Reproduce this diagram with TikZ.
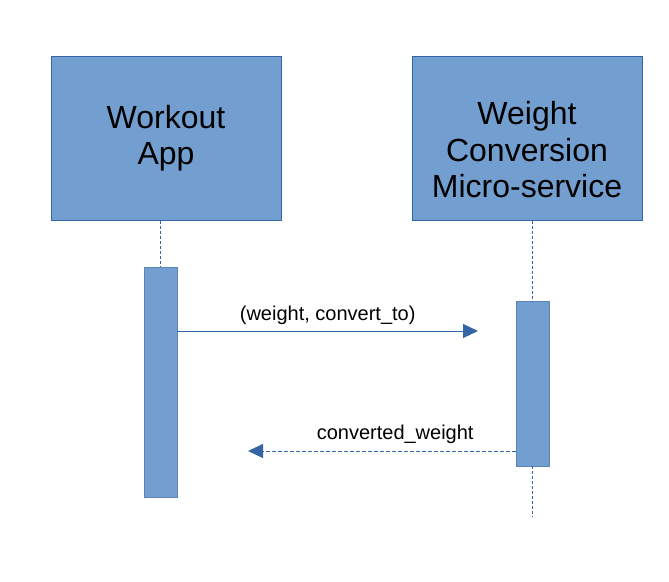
\documentclass[tikz,border=0pt]{standalone}
\usepackage{fontspec}
\setmainfont{Liberation Sans}
\usetikzlibrary{positioning, arrows.meta}
\definecolor{boxfill}{HTML}{729FCF}
\definecolor{boxline}{HTML}{3465A4}
\newcommand{\bigtext}{\fontsize{32}{36.5}\selectfont}
\newcommand{\msgtext}{\fontsize{20}{24}\selectfont}
\tikzset{
    lifebox/.style = {rectangle, fill=boxfill, draw=boxline, line width=1pt,
        minimum width=230, minimum height=164, align=center, font=\bigtext},
    actbar/.style = {rectangle, fill=boxfill, draw=boxline!80, line width=0.8pt,
        minimum width=33, inner sep=0pt},
    lifeline/.style = {draw=boxline, line width=0.8pt, dash pattern=on 3pt off 2pt},
    msg/.style = {draw=boxline, line width=0.9pt,
        -{Triangle[length=15pt,width=14pt,fill=boxline]}},
    reply/.style = {msg, dash pattern=on 4pt off 2pt},
    msglabel/.style = {anchor=base, font=\msgtext, inner sep=0pt}
}

\begin{document}
\begin{tikzpicture}[x=1pt, y=-1pt]
        \useasboundingbox (0,0) rectangle (669,581);
        %\draw[help lines] (0,0) grid (669,581);
        \node[lifebox] (app) at (166,138) {Workout\\App};
        \node[lifebox, label={[font=\bigtext, align=center, yshift=-12]center:Weight\\Conversion\\Micro-service}] (svc) at (527,138) {};
        \node[actbar, minimum height=230] (appact) at (160.5,382.5) {};
        \node[actbar, minimum height=165] (svcact) at (532.5,383.5) {};
        \coordinate (svcend) at (532.5,517);
        \coordinate (reqend) at (478,331);
        \coordinate (repend) at (248,451);
        % lifelines
        \draw[lifeline] (app.south -| appact.north) -- (appact.north);
        \draw[lifeline] (svc.south -| svcact.north) -- (svcact.north);
        \draw[lifeline] (svcact.south) -- (svcend);
        % messages
        \draw[msg] (appact.east |- reqend) -- node[msglabel, yshift=11] {(weight, convert\_to)} (reqend);
        \draw[reply] (svcact.west |- repend) -- node[msglabel, pos=0.45, yshift=12] {converted\_weight} (repend);
    \end{tikzpicture}
\end{document}
